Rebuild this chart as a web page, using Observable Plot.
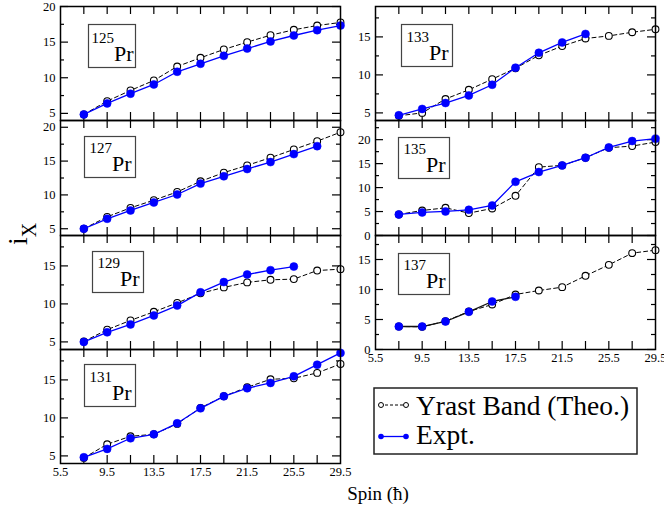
<!DOCTYPE html>
<html>
<head>
<meta charset="utf-8">
<script src="https://cdn.jsdelivr.net/npm/d3@7"></script>
<script src="https://cdn.jsdelivr.net/npm/@observablehq/plot@0.6"></script>
<style>
  html, body { margin: 0; padding: 0; background: #fff; }
  #root { position: relative; width: 664px; height: 506px; overflow: hidden;
          font-family: "Liberation Serif", "Times New Roman", serif; }
  #root svg { position: absolute; overflow: visible; }
  #root svg text { font-family: "Liberation Serif", "Times New Roman", serif; }
</style>
</head>
<body>
<div id="root"></div>
<script>
// ---------------- DATA ----------------
const spins = [7.5, 9.5, 11.5, 13.5, 15.5, 17.5, 19.5, 21.5, 23.5, 25.5, 27.5, 29.5];

const theo125 = [4.85, 6.72, 8.22, 9.62, 11.58, 12.8, 13.97, 15.0, 15.97, 16.73, 17.33, 17.76];
const expt125 = [4.85, 6.4, 7.76, 9.06, 10.84, 11.96, 13.08, 14.1, 15.09, 15.93, 16.68, 17.33];

const theo127 = [5.0, 6.76, 8.09, 9.22, 10.44, 12.01, 13.29, 14.37, 15.5, 16.72, 17.94, 19.27];
const expt127 = [5.0, 6.47, 7.7, 8.88, 10.06, 11.67, 12.75, 13.82, 14.85, 16.03, 17.21];

const theo129 = [5.05, 6.61, 7.83, 8.96, 10.13, 11.39, 12.17, 12.83, 13.17, 13.26, 14.39, 14.57];
const expt129 = [5.0, 6.26, 7.3, 8.48, 9.78, 11.52, 12.87, 13.87, 14.44, 14.91];

const theo131 = [4.74, 6.53, 7.58, 7.84, 9.21, 11.32, 12.84, 14.03, 15.08, 15.21, 15.92, 17.1];
const expt131 = [4.82, 5.92, 7.32, 7.84, 9.29, 11.26, 12.84, 13.9, 14.6, 15.47, 17.0, 18.55];

const theo133 = [4.62, 5.0, 6.83, 8.04, 9.44, 10.87, 12.57, 13.79, 14.79, 15.13, 15.61, 16.0];
const expt133 = [4.69, 5.52, 6.3, 7.3, 8.7, 10.95, 12.91, 14.27, 15.39];

const theo135 = [4.39, 5.22, 5.78, 4.67, 5.64, 8.29, 14.28, 14.63, 16.23, 18.32, 18.66, 19.5];
const expt135 = [4.39, 4.81, 5.02, 5.36, 6.27, 11.21, 13.24, 14.63, 16.23, 18.39, 19.71, 20.2];

const theo137 = [3.83, 3.78, 4.72, 6.33, 7.5, 9.17, 9.83, 10.39, 12.28, 14.11, 16.06, 16.56];
const expt137 = [3.83, 3.83, 4.67, 6.28, 8.0, 8.78];

const isotopes = ["125", "127", "129", "131", "133", "135", "137"];
const element = "Pr";
const theoSeries = [theo125, theo127, theo129, theo131, theo133, theo135, theo137];
const exptSeries = [expt125, expt127, expt129, expt131, expt133, expt135, expt137];

const yDomains = [[4, 20], [4, 21], [4, 19], [4, 19], [4, 19], [0, 24], [0, 19]];
const yTickValues = [[5, 10, 15, 20], [5, 10, 15, 20], [5, 10, 15], [5, 10, 15], [5, 10, 15], [0, 5, 10, 15, 20], [0, 5, 10, 15]];
const xDomain = [5.5, 29.5];
const xTickLabels = [5.5, 9.5, 13.5, 17.5, 21.5, 25.5, 29.5];
const xTickMarks = [7.5, 9.5, 11.5, 13.5, 15.5, 17.5, 19.5, 21.5, 23.5, 25.5, 27.5];

const legendLabels = ["Yrast Band (Theo.)", "Expt."];
const xLabel = "Spin (ħ)";
const yLabelMain = "i";
const yLabelSub = "X";

// ---------------- LAYOUT / STYLE ----------------
const blue = "#0000ff";
const FONT = '"Liberation Serif", "Times New Roman", serif';
// frame position of each panel in page pixels
const layout = [
  { left: 60, top: 6, h: 114, axis: false, box: [88, 24, 47, 43] },
  { left: 60, top: 120, h: 115, axis: false, box: [84, 136, 51, 41] },
  { left: 60, top: 235, h: 114, axis: false, box: [92, 251, 51, 41] },
  { left: 60, top: 349, h: 114, axis: true, box: [84, 364, 51, 42] },
  { left: 375, top: 6, h: 114, axis: false, box: [401, 24, 51, 42] },
  { left: 375, top: 120, h: 115, axis: false, box: [398, 137, 51, 41] },
  { left: 375, top: 235, h: 114, axis: true, box: [398, 253, 51, 41] }
];
const exptLineColor = [blue, blue, blue, blue, blue, blue, "#111"];

const root = document.getElementById("root");
const NS = "http://www.w3.org/2000/svg";
function el(tag, attrs, parent) {
  const e = document.createElementNS(NS, tag);
  for (const k in attrs) e.setAttribute(k, attrs[k]);
  if (parent) parent.appendChild(e);
  return e;
}

isotopes.forEach((iso, i) => {
  const L = layout[i];
  const W = 280, H = L.h;
  const mL = 40, mR = 14, mT = 12, mB = L.axis ? 30 : 12;
  const theo = theoSeries[i].map((v, j) => ({ spin: spins[j], ix: v }));
  const expt = exptSeries[i].map((v, j) => ({ spin: spins[j], ix: v }));
  const majors = yTickValues[i];
  const [y0, y1] = yDomains[i];
  const minors = majors.map(t => t + 2.5).concat([majors[0] - 2.5]).filter(t => t > y0 && t < y1);

  const chart = Plot.plot({
    width: W + mL + mR,
    height: H + mT + mB,
    marginLeft: mL, marginRight: mR, marginTop: mT, marginBottom: mB,
    style: { fontFamily: FONT, fontSize: "12.5px", background: "transparent", overflow: "visible", color: "black" },
    x: { domain: xDomain, axis: L.axis ? "bottom" : null, ticks: xTickLabels, tickSize: 0, tickPadding: 4,
         tickFormat: d => d.toFixed(1), label: null },
    y: { domain: yDomains[i], ticks: majors, tickSize: 0, tickPadding: 5, label: null },
    marks: [
      // inward ticks on all four sides
      Plot.tickY(majors, { insetRight: W - 8, stroke: "black", strokeWidth: 1.2 }),
      Plot.tickY(majors, { insetLeft: W - 8, stroke: "black", strokeWidth: 1.2 }),
      Plot.tickY(minors, { insetRight: W - 4, stroke: "black", strokeWidth: 1.2 }),
      Plot.tickY(minors, { insetLeft: W - 4, stroke: "black", strokeWidth: 1.2 }),
      Plot.tickX(xTickMarks, { insetBottom: H - 8, stroke: "black", strokeWidth: 1.2 }),
      Plot.tickX(xTickMarks, { insetTop: H - 8, stroke: "black", strokeWidth: 1.2 }),
      // theory
      Plot.line(theo, { x: "spin", y: "ix", stroke: "black", strokeWidth: 1, strokeDasharray: "4,3" }),
      Plot.dot(theo, { x: "spin", y: "ix", r: 3.4, fill: "white", stroke: "black", strokeWidth: 1.1 }),
      // experiment
      Plot.line(expt, { x: "spin", y: "ix", stroke: exptLineColor[i], strokeWidth: 1.3 }),
      Plot.dot(expt, { x: "spin", y: "ix", r: 4, fill: blue, stroke: blue, strokeWidth: 0.5 }),
      Plot.frame({ stroke: "black", strokeWidth: 1.5 })
    ]
  });
  chart.style.left = (L.left - mL) + "px";
  chart.style.top = (L.top - mT) + "px";
  root.appendChild(chart);
});

// overlay: nucleus labels, axis titles, legend
const ov = el("svg", { width: 664, height: 506, style: "left:0;top:0" });
root.appendChild(ov);

isotopes.forEach((iso, i) => {
  const [bx, by, bw, bh] = layout[i].box;
  el("rect", { x: bx + 0.5, y: by + 0.5, width: bw, height: bh, fill: "white", stroke: "#444", "stroke-width": 1.2 }, ov);
  const t = el("text", { x: bx + bw / 2 + 1, y: by + bh - 6, "text-anchor": "middle", fill: "black" }, ov);
  const s1 = el("tspan", { "font-size": 15, dy: -18 }, t); s1.textContent = iso;
  const s2 = el("tspan", { "font-size": 22, dy: 18 }, t); s2.textContent = element;
});

// y label (rotated)
const yl = el("text", { transform: "translate(27,234) rotate(-90)", "text-anchor": "middle", fill: "black", "font-size": 28 }, ov);
const ym = el("tspan", {}, yl); ym.textContent = yLabelMain;
const ys = el("tspan", { "font-size": 20, dy: 9 }, yl); ys.textContent = yLabelSub;

// x label
const xl = el("text", { x: 378, y: 500, "text-anchor": "middle", fill: "black", "font-size": 19 }, ov);
xl.textContent = xLabel;

// legend
el("rect", { x: 374, y: 388, width: 263, height: 66, fill: "white", stroke: "#222", "stroke-width": 1.5 }, ov);
el("line", { x1: 380, x2: 406, y1: 405, y2: 405, stroke: "black", "stroke-width": 1, "stroke-dasharray": "3,2" }, ov);
el("circle", { cx: 381, cy: 405, r: 2.5, fill: "white", stroke: "black", "stroke-width": 1 }, ov);
el("circle", { cx: 406, cy: 405, r: 2.5, fill: "white", stroke: "black", "stroke-width": 1 }, ov);
el("line", { x1: 381, x2: 406, y1: 436.5, y2: 436.5, stroke: blue, "stroke-width": 1.3 }, ov);
el("circle", { cx: 381, cy: 436.5, r: 2.8, fill: blue }, ov);
el("circle", { cx: 406, cy: 436.5, r: 2.8, fill: blue }, ov);
const l1 = el("text", { x: 416, y: 415, "font-size": 27.5, fill: "black" }, ov); l1.textContent = legendLabels[0];
const l2 = el("text", { x: 416, y: 444, "font-size": 27.5, fill: "black" }, ov); l2.textContent = legendLabels[1];
</script>
</body>
</html>
